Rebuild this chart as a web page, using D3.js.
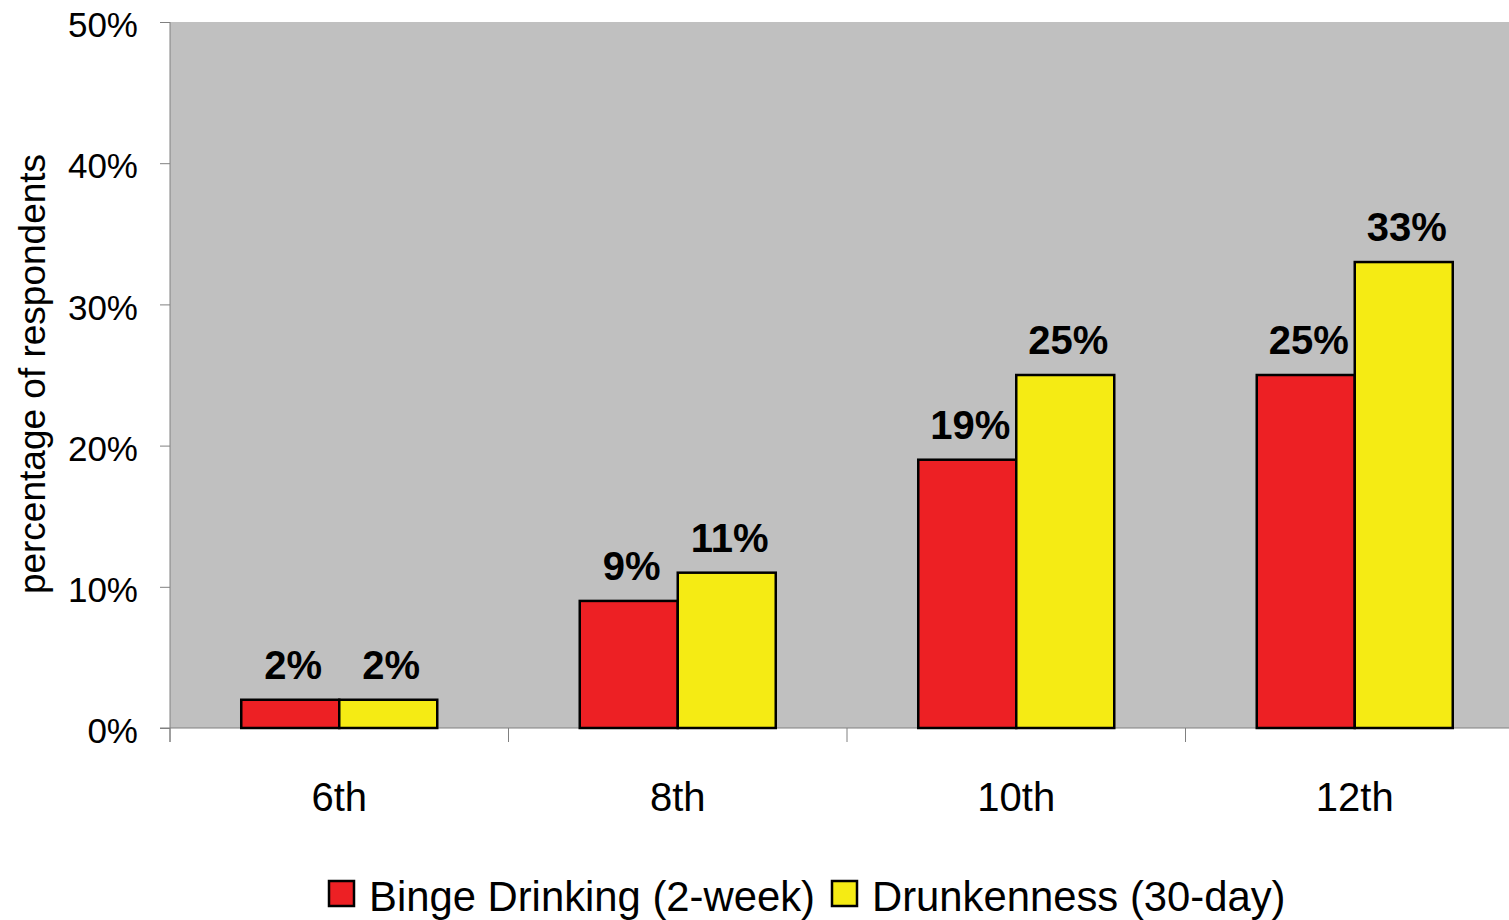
<!DOCTYPE html>
<html>
<head>
<meta charset="utf-8">
<script src="https://cdn.jsdelivr.net/npm/d3@7"></script>
<style>
  body { margin: 0; background: #fff; }
  svg { display: block; font-family: "Liberation Sans", Arial, sans-serif; }
</style>
</head>
<body>
<svg id="chart" width="1509" height="920"></svg>
<script>
// grades and the two measures
var grades = ["6th", "8th", "10th", "12th"]
var seriesNames = ["Binge Drinking (2-week)", "Drunkenness (30-day)"]
var bingeValues = [2, 9, 19, 25]
var drunkValues = [2, 11, 25, 33]
var yTicks = [0, 10, 20, 30, 40, 50]
var colors = ["#ED2024", "#F5EB14"]

var svg = d3.select("#chart")
var plotLeft = 170, plotTop = 22, plotBottom = 728
var step = 338.5

var x0 = d3.scaleBand().domain(grades).range([plotLeft, plotLeft + step * grades.length])
var x1 = d3.scaleBand().domain(seriesNames).range([0, x0.bandwidth()]).paddingOuter(0.727)
var y = d3.scaleLinear().domain([0, 50]).range([plotBottom, plotTop])

// gray plot area
svg.append("rect")
    .attr("x", plotLeft).attr("y", plotTop)
    .attr("width", 1509 - plotLeft).attr("height", plotBottom - plotTop)
    .attr("fill", "#C0C0C0")

// y axis
var yAxis = svg.append("g")
    .attr("transform", "translate(" + plotLeft + ",0)")
    .call(d3.axisLeft(y).tickValues(yTicks).tickSize(10).tickPadding(22)
        .tickFormat(function(d) { return d + "%" }))
yAxis.select(".domain").attr("stroke", "#808080").attr("d", "M0," + plotTop + "V" + (plotBottom + 14))
yAxis.selectAll(".tick line").attr("stroke", "#808080")
yAxis.selectAll(".tick text").attr("font-size", 35).attr("fill", "#000")
    .attr("font-family", "Liberation Sans, Arial, sans-serif")
    .attr("dy", "0.42em")

// x axis
var xAxis = svg.append("g")
    .attr("transform", "translate(0," + plotBottom + ")")
    .call(d3.axisBottom(x0).tickSize(0).tickPadding(55))
xAxis.select(".domain").attr("stroke", "#808080").attr("d", "M" + (plotLeft - 10) + ",0H1509")
xAxis.selectAll(".tick text").attr("font-size", 40).attr("fill", "#000")
    .attr("font-family", "Liberation Sans, Arial, sans-serif")

// category separators below axis
svg.append("g").selectAll("line")
    .data(grades.concat(["end"]))
    .enter().append("line")
    .attr("x1", function(d, i) { return plotLeft + i * x0.step() })
    .attr("x2", function(d, i) { return plotLeft + i * x0.step() })
    .attr("y1", plotBottom).attr("y2", plotBottom + 14)
    .attr("stroke", "#808080")

// bars
var rows = grades.map(function(g, i) {
    return { grade: g, values: [
        { name: seriesNames[0], value: bingeValues[i], color: colors[0] },
        { name: seriesNames[1], value: drunkValues[i], color: colors[1] }
    ]}
})

var groups = svg.append("g").selectAll("g")
    .data(rows)
    .enter().append("g")
    .attr("transform", function(d) { return "translate(" + x0(d.grade) + ",0)" })

groups.selectAll("rect")
    .data(function(d) { return d.values })
    .enter().append("rect")
    .attr("x", function(d) { return x1(d.name) })
    .attr("y", function(d) { return y(d.value) })
    .attr("width", x1.bandwidth())
    .attr("height", function(d) { return plotBottom - y(d.value) })
    .attr("fill", function(d) { return d.color })
    .attr("stroke", "#000")
    .attr("stroke-width", 2.5)

groups.selectAll("text")
    .data(function(d) { return d.values })
    .enter().append("text")
    .attr("x", function(d) { return x1(d.name) + x1.bandwidth() / 2 + 3 })
    .attr("y", function(d) { return y(d.value) - 21 })
    .attr("text-anchor", "middle")
    .attr("font-size", 40)
    .attr("font-weight", "bold")
    .text(function(d) { return d.value + "%" })

// y title
svg.append("text")
    .attr("transform", "translate(45,374) rotate(-90)")
    .attr("text-anchor", "middle")
    .attr("font-size", 37)
    .text("percentage of respondents")

// legend
var legend = svg.append("g")
var legendX = [329, 832]
seriesNames.forEach(function(name, i) {
    legend.append("rect")
        .attr("x", legendX[i]).attr("y", 881)
        .attr("width", 25).attr("height", 25)
        .attr("fill", colors[i]).attr("stroke", "#000").attr("stroke-width", 2.5)
    legend.append("text")
        .attr("x", legendX[i] + 40).attr("y", 911)
        .attr("font-size", 41.8)
        .text(name)
})
</script>
</body>
</html>
